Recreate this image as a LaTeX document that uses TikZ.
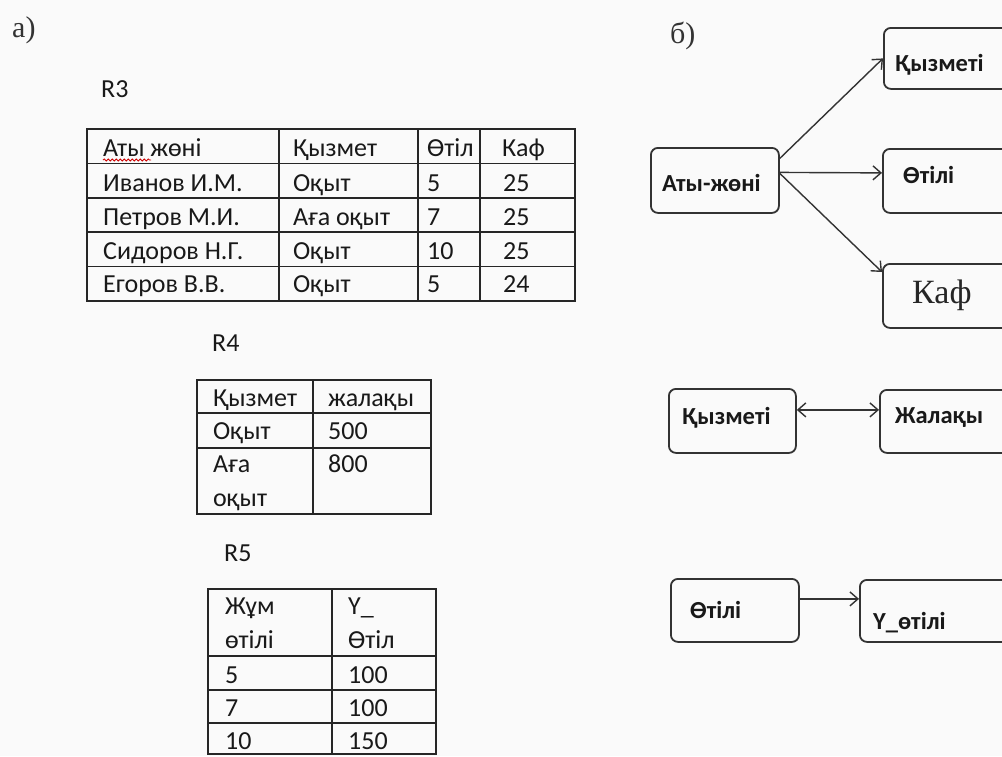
\documentclass[tikz,border=0pt]{standalone}
\usepackage{fontspec}
\setmainfont{Carlito}
\newfontfamily\serifcyr{Liberation Serif}
\usetikzlibrary{arrows.meta,decorations.pathmorphing}

\begin{document}
\begin{tikzpicture}[x=1pt,y=-1pt,
  cell/.style={anchor=base west, inner sep=0pt, font=\fontsize{26}{30}\selectfont, text=black!90},
  rule/.style={line width=1.6pt, draw=black!85},
  entity/.style={draw=black!80, line width=1.8pt, rounded corners=7pt, inner sep=0pt, anchor=north west},
  elabel/.style={anchor=west, inner sep=0pt, font=\bfseries\fontsize{24.5}{28}\selectfont, text=black!90},
  link/.style={line width=1.4pt, draw=black!80, -{Straight Barb[length=8pt,width=14pt]}},
  partlabel/.style={anchor=base west, inner sep=0pt, font=\serifcyr\fontsize{30}{34}\selectfont, text=black!80}
]
% canvas
\fill[black!2] (0,0) rectangle (1002,756);
\useasboundingbox (0,0) rectangle (1002,756);
\clip (0,0) rectangle (1002,756);

% part labels
\node[partlabel] (pa) at (12,37) {а)};
\node[partlabel] (pb) at (670,43) {б)};

% ---------- relation R3 ----------
\node[cell] (r3) at (101,97) {R3};
\draw[rule] (87,129) rectangle (575,301);
\foreach \yy in {163.4,197.8,232.2,266.6} \draw[rule] (87,\yy) -- (575,\yy);
\foreach \xx in {279,418,480} \draw[rule] (\xx,129) -- (\xx,301);
\node[cell] (r3h1) at (103,156) {Аты жөні};
\node[cell] (r3h2) at (293,156) {Қызмет};
\node[cell] (r3h3) at (427,156) {Өтіл};
\node[cell] (r3h4) at (502,156) {Каф};
\draw[red!80!black, line width=0.8pt, decorate, decoration={snake, amplitude=1.1pt, segment length=4pt}] (103,160) -- (151,160);
\node[cell] (r3a1) at (103,191) {Иванов И.М.};
\node[cell] (r3a2) at (293,191) {Оқыт};
\node[cell] (r3a3) at (427,191) {5};
\node[cell] (r3a4) at (503,191) {25};
\node[cell] (r3b1) at (103,225) {Петров М.И.};
\node[cell] (r3b2) at (293,225) {Аға оқыт};
\node[cell] (r3b3) at (427,225) {7};
\node[cell] (r3b4) at (503,225) {25};
\node[cell] (r3c1) at (103,259) {Сидоров Н.Г.};
\node[cell] (r3c2) at (293,259) {Оқыт};
\node[cell] (r3c3) at (427,259) {10};
\node[cell] (r3c4) at (503,259) {25};
\node[cell] (r3d1) at (103,292) {Егоров В.В.};
\node[cell] (r3d2) at (293,292) {Оқыт};
\node[cell] (r3d3) at (427,292) {5};
\node[cell] (r3d4) at (503,292) {24};

% ---------- relation R4 ----------
\node[cell] (r4) at (212,351) {R4};
\draw[rule] (197,380) rectangle (431,514);
\foreach \yy in {413,448} \draw[rule] (197,\yy) -- (431,\yy);
\draw[rule] (313,380) -- (313,514);
\node[cell] (r4h1) at (213,406) {Қызмет};
\node[cell] (r4h2) at (328,406) {жалақы};
\node[cell] (r4a1) at (213,439) {Оқыт};
\node[cell] (r4a2) at (328,439) {500};
\node[cell] (r4b1) at (213,472) {Аға};
\node[cell] (r4b1x) at (213,506) {оқыт};
\node[cell] (r4b2) at (328,472) {800};

% ---------- relation R5 ----------
\node[cell] (r5) at (224,561) {R5};
\draw[rule] (208,589) rectangle (436,754);
\foreach \yy in {656,690,723} \draw[rule] (208,\yy) -- (436,\yy);
\draw[rule] (332,589) -- (332,754);
\node[cell] (r5h1) at (225,614) {Жұм};
\node[cell] (r5h1x) at (225,648) {өтілі};
\node[cell] (r5h2) at (348,614) {Y\_};
\node[cell] (r5h2x) at (348,648) {Өтіл};
\node[cell] (r5a1) at (225,683) {5};
\node[cell] (r5a2) at (348,683) {100};
\node[cell] (r5b1) at (225,716) {7};
\node[cell] (r5b2) at (348,716) {100};
\node[cell] (r5c1) at (225,749) {10};
\node[cell] (r5c2) at (348,749) {150};

% ---------- dependency diagram ----------
\node[entity, minimum width=128pt, minimum height=65pt] (aty) at (650,147) {};
\node[elabel] (atyT) at (662,183) {Аты-жөні};

\node[entity, minimum width=135pt, minimum height=61pt] (kyz) at (883,27) {};
\node[elabel] (kyzT) at (895,65) {Қызметі};
\node[entity, minimum width=135pt, minimum height=64pt] (ot) at (882,148) {};
\node[elabel] (otT) at (903,175) {Өтілі};
\node[entity, minimum width=135pt, minimum height=64pt] (kaf) at (882,263) {};
\node[anchor=base west, inner sep=0pt, font=\serifcyr\fontsize{34}{38}\selectfont, text=black!85] (kafT) at (912,303) {Каф};

\draw[link] ([yshift=22pt]aty.east) -- (kyz.west);
\draw[link] ([yshift=8pt]aty.east) -- ([yshift=8pt]ot.west);
\draw[link] ([yshift=7pt]aty.east) -- ([yshift=-9pt]kaf.north west);

\node[entity, minimum width=127pt, minimum height=64pt] (kyz2) at (668,388) {};
\node[elabel] (kyz2T) at (682,418) {Қызметі};
\node[entity, minimum width=135pt, minimum height=63pt] (zhl) at (879,389) {};
\node[elabel] (zhlT) at (895,418) {Жалақы};
\draw[link, {Straight Barb[length=8pt,width=14pt]}-{Straight Barb[length=8pt,width=14pt]}]
  ([yshift=11pt]kyz2.east) -- ([yshift=11.5pt]zhl.west);

\node[entity, minimum width=128pt, minimum height=63pt] (ot2) at (670,578) {};
\node[elabel] (ot2T) at (690,610) {Өтілі};
\node[entity, minimum width=150pt, minimum height=62pt] (yot) at (859,579) {};
\node[elabel] (yotT) at (873,623) {Y\_өтілі};
\draw[link] ([yshift=11.5pt]ot2.east) -- ([yshift=12pt]yot.west);
\end{tikzpicture}
\end{document}
